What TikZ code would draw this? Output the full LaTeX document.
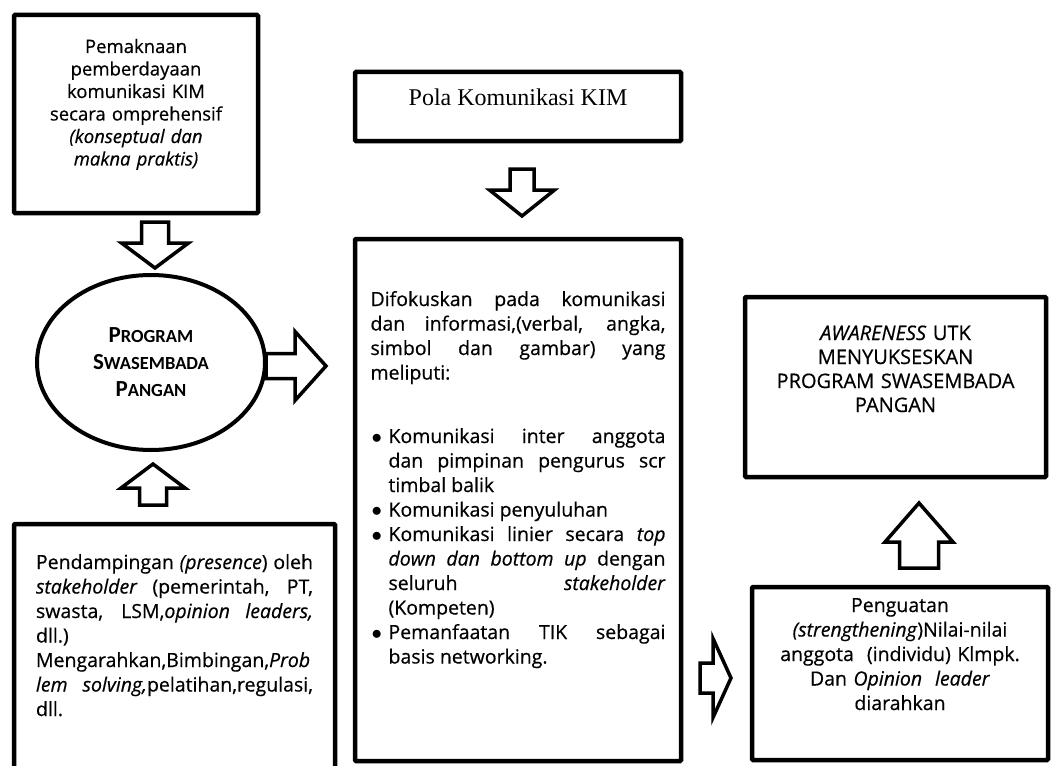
\documentclass[tikz,border=0pt]{standalone}
\usepackage{fontspec}
\setsansfont{Open Sans}[FakeBold=0.5]
\newfontfamily\polafont{Liberation Serif}
\newfontfamily\progfont{Carlito}
\usetikzlibrary{shapes.geometric,positioning,calc}
\tolerance=10000
\hyphenpenalty=10000
\newcommand{\capword}[2]{#1{\fontsize{18.5}{27}\selectfont #2}}
\newcommand{\bulletitem}{\noindent\hangindent=18pt\hangafter=1\hbox to 18pt{\hspace{1pt}$\bullet$\hfil}}
\tikzset{
  basic/.style = {draw, rectangle, line width=4.5pt, rounded corners=1pt, fill=white,
    inner sep=0pt, outer sep=0pt, font=\sffamily\fontsize{19.5}{24.5}\selectfont},
  centred/.style = {basic, align=center},
  justified/.style = {basic, align=justify},
  hollow arrow/.style n args={3}{draw, line width=3.5pt, fill=white,
    to path={let \p1=(\tikztostart), \p2=(\tikztotarget),
        \n1={atan2(\y2-\y1,\x2-\x1)}, \n2={veclen(\x2-\x1,\y2-\y1)-#3} in
      ($(\p1)+({\n1+90}:#1)$) -- ++(\n1:\n2) -- ++({\n1+90}:{#2-#1}) -- (\p2)
      -- ($(\p1)+(\n1:\n2)+({\n1-90}:#2)$) -- ++({\n1+90}:{#2-#1})
      -- ($(\p1)+({\n1-90}:#1)$) -- cycle}}
}
\begin{document}
\begin{tikzpicture}[x=1pt, y=-1pt]
\useasboundingbox (0,0) rectangle (1051,765);
\clip (0,0) rectangle (1051,765);
% left column
\node [centred, font=\sffamily\fontsize{18.5}{22.5}\selectfont, text width=230pt, minimum width=244pt,
  text height=38pt, text depth=160pt, anchor=north west] (mean) at (14,15)
  {Pemaknaan\\ pemberdayaan\\ komunikasi KIM\\ secara omprehensif\\ \textit{(konseptual dan}\\ \textit{makna praktis)}};
\node [draw, ellipse, line width=4pt, minimum width=228pt, minimum height=175pt, inner sep=0pt, outer sep=0pt,
  align=center, font=\progfont\bfseries\fontsize{23}{27}\selectfont, below=62pt of mean, xshift=15pt] (prog)
  {\capword{P}{ROGRAM}\\ \capword{S}{WASEMBADA}\\ \capword{P}{ANGAN}};
\node [justified, text width=277pt, minimum width=321pt, text height=45pt, text depth=231pt,
  below=74pt of prog, xshift=23.5pt] (pend)
  {Pendampingan \textit{(presence}) oleh\linebreak
   \textit{stakeholder} (pemerintah, PT,\linebreak
   swasta, LSM,\textit{opinion leaders,}\linebreak
   dll.)\par
   Mengarahkan,Bimbingan,\textit{Prob\linebreak
   lem solving,}pelatihan,regulasi,\linebreak
   dll.\par};
% middle column
\node [basic, font=\polafont\fontsize{24}{28}\selectfont, minimum width=326pt,
  text height=34pt, text depth=35pt, anchor=north west] (pola) at (355,72) {Pola Komunikasi KIM};
\node [justified, text width=295pt, minimum width=326pt, text height=67pt, text depth=455pt,
  below=98pt of pola] (central)
  {Difokuskan pada komunikasi\linebreak
   dan informasi,(verbal, angka,\linebreak
   simbol dan gambar) yang\linebreak
   meliputi:\par\vspace{39pt}
   \bulletitem Komunikasi inter anggota\linebreak
   dan pimpinan pengurus scr\linebreak
   timbal balik\par
   \bulletitem Komunikasi penyuluhan\par
   \bulletitem Komunikasi linier secara \textit{top\linebreak
   down dan bottom up} dengan\linebreak
   seluruh \textit{stakeholder}\linebreak
   (Kompeten)\par
   \bulletitem Pemanfaatan TIK sebagai\linebreak
   basis networking.\par};
% right column
\node [centred, font=\sffamily\fontsize{20}{24}\selectfont, text width=290pt, minimum width=301pt,
  text height=43pt, text depth=137pt, anchor=north west] (aware) at (745,297)
  {\textit{AWARENESS} UTK\\ MENYUKSESKAN\\ PROGRAM SWASEMBADA\\ PANGAN};
\node [centred, text width=285pt, minimum width=296pt, text height=25pt, text depth=148pt,
  below=110pt of aware, xshift=4.5pt] (peng)
  {Penguatan\\ \textit{(strengthening})Nilai-nilai\\ anggota\ \ (individu) Klmpk.\\
   Dan \textit{Opinion\ \ leader}\\ diarahkan};
% block arrows between the boxes
\draw [hollow arrow={13.5pt}{33.5pt}{25pt}] ([xshift=19pt,yshift=-9pt]mean.south) to ([xshift=4pt,yshift=7pt]prog.north);
\draw [hollow arrow={13.5pt}{32pt}{24pt}] ([xshift=-21.5pt,yshift=19pt]pend.north) to ([xshift=2pt,yshift=-14pt]prog.south);
\draw [hollow arrow={12.5pt}{34.5pt}{31pt}] ([xshift=1pt,yshift=-3.5pt]prog.east) to ([xshift=-29pt,yshift=134pt]central.west);
\draw [hollow arrow={12pt}{32.5pt}{26pt}] ([xshift=4pt,yshift=-28pt]pola.south) to ([xshift=4pt,yshift=23pt]central.north);
\draw [hollow arrow={15pt}{39.5pt}{18pt}] ([xshift=19pt,yshift=-178pt]central.east) to ([xshift=-21pt,yshift=-4.5pt]peng.west);
\draw [hollow arrow={19.5pt}{34pt}{39pt}] ([xshift=19pt,yshift=19pt]peng.north) to ([xshift=23.5pt,yshift=-26pt]aware.south);
\end{tikzpicture}
\end{document}
